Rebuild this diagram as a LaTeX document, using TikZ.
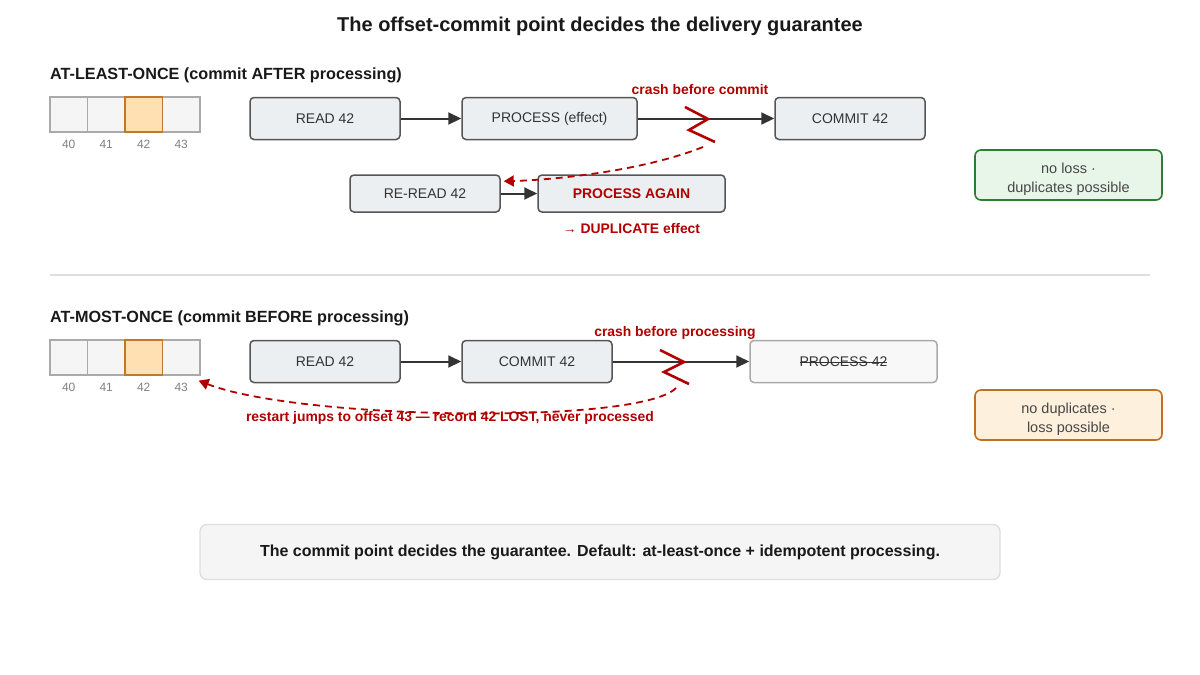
\documentclass[tikz,border=0pt]{standalone}
\usepackage{fontspec}
\setmainfont{Liberation Sans}
\usetikzlibrary{arrows.meta,positioning}
\definecolor{boxfill}{HTML}{ECEFF2}
\definecolor{boxline}{HTML}{555555}
\definecolor{ink}{HTML}{333333}
\definecolor{crashred}{HTML}{B00000}
\definecolor{cellfill}{HTML}{F5F5F5}
\definecolor{cellline}{HTML}{AAAAAA}
\definecolor{hotfill}{HTML}{FFE0B2}
\definecolor{hotline}{HTML}{C0782A}
\definecolor{okfill}{HTML}{E8F5E9}
\definecolor{okline}{HTML}{2E7D32}
\definecolor{warnfill}{HTML}{FDF0DC}
\definecolor{warnline}{HTML}{C0701F}
\newcommand{\strikeword}[1]{\setbox0\hbox{#1}\rlap{\raisebox{0.38\ht0}{\rule{\wd0}{1pt}}}\box0}
\tikzset{
  stepbox/.style={draw=boxline, fill=boxfill, rounded corners=4pt, line width=1.5pt,
    minimum width=150pt, minimum height=42pt, text=ink, font=\fontsize{14}{16}\selectfont},
  skipbox/.style={stepbox, draw=cellline, fill=cellfill!70!white},
  cell/.style={draw=cellline, fill=cellfill, line width=1.3pt, minimum width=37.5pt,
    minimum height=35pt, inner sep=0pt},
  offlabel/.style={text=gray, font=\fontsize{12}{14}\selectfont, inner sep=1pt},
  heading/.style={anchor=west, inner sep=0pt, text=black!90, font=\fontsize{16.2}{19}\selectfont\bfseries},
  redlabel/.style={text=crashred, font=\fontsize{13.9}{16}\selectfont\bfseries},
  result/.style={rounded corners=6pt, line width=1.6pt, minimum width=187pt, minimum height=50pt,
    align=center, text depth=0pt, text=ink!90, font=\fontsize{14.5}{19}\selectfont},
  flow/.style={draw=ink, line width=2pt, -{Triangle[length=13pt,width=12pt]}},
  crash/.style={draw=crashred, line width=2.6pt},
  restart/.style={draw=crashred, line width=1.8pt, dash pattern=on 7pt off 5pt,
    -{Triangle[length=10pt,width=11pt]}},
}
\begin{document}
\begin{tikzpicture}[x=1pt,y=-1pt]
\useasboundingbox (0,0) rectangle (1200,675);
\node[font=\fontsize{20}{24}\selectfont\bfseries, text=black!90] (title) at (600,26) {The offset-commit point decides the delivery guarantee};

% at-least-once
\node[heading] (h1) at (50,75) {AT-LEAST-ONCE (commit AFTER processing)};
\foreach \n/\f/\d in {40/cellfill/cellline,41/cellfill/cellline,43/cellfill/cellline,42/hotfill/hotline}{
  \node[cell, fill=\f, draw=\d] (u\n) at ({68.75+37.5*(\n-40)},114.5) {};
  \node[offlabel, below=6pt of u\n] {\n};
}
\node[stepbox] (a1) at (325,118.5) {READ 42};
\node[stepbox, minimum width=175pt] (b1) at (549.5,118.5) {PROCESS (effect)};
\node[stepbox] (c1) at (850,118.5) {COMMIT 42};
\draw[flow] (a1) -- (b1);
\draw[flow] (b1) -- (c1);
\draw[crash] (685,107) -- (708,119) -- (689,130) -- (715,142);
\coordinate (z1) at (703,147);
\node[redlabel] (k1) at (700,90) {crash before commit};
\node[stepbox, minimum height=37pt] (r1) at (425,193.5) {RE-READ 42};
\node[stepbox, minimum height=37pt, minimum width=187pt, text=crashred, font=\fontsize{14}{16}\selectfont\bfseries] (p1) at (631.5,193.5) {PROCESS AGAIN};
\draw[flow] (r1) -- (p1);
\draw[restart] (z1) .. controls (640,172) and (550,180) .. ([xshift=3pt,yshift=-7pt]r1.north east);
\node[redlabel, below=7pt of p1] (d1) {→ DUPLICATE effect};
\node[result, draw=okline, fill=okfill] (g1) at (1068.5,175) {\rule{0pt}{16pt}no loss ·\\duplicates possible};

\draw[black!13, line width=1.3pt] (50,275) -- (1150,275);

% at-most-once
\node[heading] (h2) at (50,318) {AT-MOST-ONCE (commit BEFORE processing)};
\foreach \n/\f/\d in {40/cellfill/cellline,41/cellfill/cellline,43/cellfill/cellline,42/hotfill/hotline}{
  \node[cell, fill=\f, draw=\d] (v\n) at ({68.75+37.5*(\n-40)},357.5) {};
  \node[offlabel, below=6pt of v\n] {\n};
}
\node[stepbox] (a2) at (325,361.5) {READ 42};
\node[stepbox] (b2) at (537,361.5) {COMMIT 42};
\node[skipbox, minimum width=187pt] (c2) at (843.5,361.5) {\strikeword{PROCESS 42}};
\draw[flow] (a2) -- (b2);
\draw[flow] (b2) -- (c2);
\draw[crash] (660,350) -- (684,362) -- (664,372) -- (689,384);
\coordinate (z2) at (676,388);
\node[redlabel] (k2) at (675,333) {crash before processing};
\draw[restart] (z2) .. controls (640,425) and (300,420) .. ([xshift=-2pt,yshift=-5pt]v43.south east);
\node[redlabel] (d2) at (450,418) {restart jumps to offset 43 — record 42 LOST, never processed};
\node[result, draw=warnline, fill=warnfill] (g2) at (1068.5,415) {\rule{0pt}{16pt}no duplicates ·\\loss possible};

% footer
\node[rounded corners=7pt, draw=black!13, fill=cellfill, line width=1.3pt, minimum width=800pt,
  minimum height=55pt, font=\fontsize{16}{19}\selectfont\bfseries, text=black!90] (f) at (600,552)
  {The commit point decides the guarantee. Default: at-least-once + idempotent processing.};
\end{tikzpicture}
\end{document}
